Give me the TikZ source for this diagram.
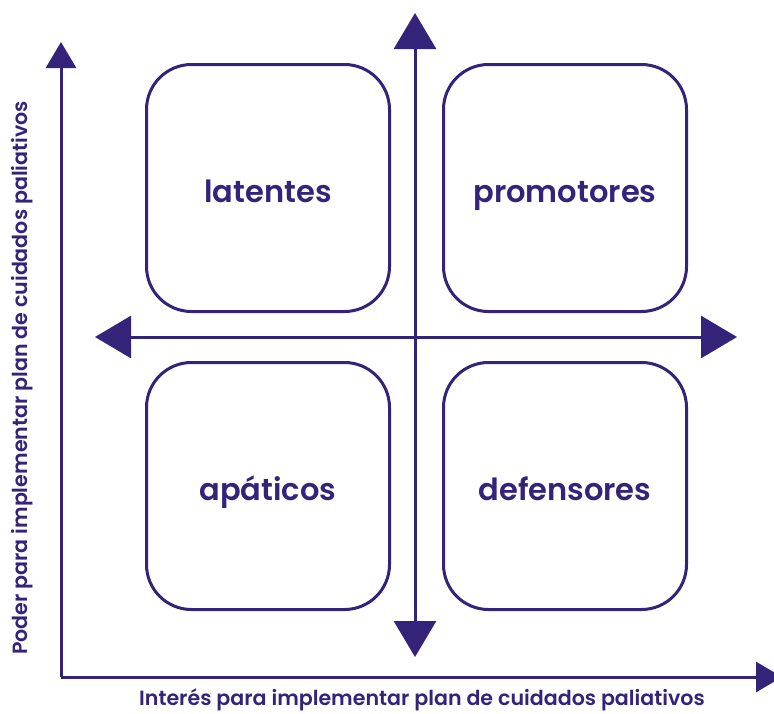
\documentclass[tikz,border=0pt]{standalone}
\usepackage{fontspec}
\setmainfont{Poppins}[UprightFont=*-SemiBold]
\usetikzlibrary{arrows.meta}
\definecolor{indigo}{RGB}{53,35,122}
\tikzset{
    quadbox/.style={draw=indigo, line width=3pt, rounded corners=45pt, minimum width=243pt, minimum height=247pt, inner sep=0pt, text height=28pt, text depth=0pt, text=indigo, font=\fontsize{30.5}{36}\selectfont},
    axislabel/.style={text=indigo, inner sep=0pt, font=\fontsize{20.6}{24}\selectfont},
    bigarrow/.style={indigo, line width=3pt, {Triangle[length=36pt,width=42pt]}-{Triangle[length=36pt,width=42pt]}},
    axisarrow/.style={indigo, line width=3pt, -{Triangle[length=26pt,width=30pt]}}
}
\begin{document}
\begin{tikzpicture}[x=1pt,y=-1pt]
    \useasboundingbox (0,0) rectangle (774,713);
    % Axes
    \coordinate (origin) at (61,677);
    \coordinate (ytip) at (61,42);
    \coordinate (xtip) at (782,677);
    \draw[axisarrow] (origin) -- (ytip);
    \draw[axisarrow] (origin) -- (xtip);
    % Axis labels
    \node[axislabel, rotate=90] (ylabel) at (22,378) {Poder para implementar plan de cuidados paliativos};
    \node[axislabel] (xlabel) at (422,700) {Interés para implementar plan de cuidados paliativos};

    % Quadrants
    \node[quadbox] (latentes) at (268,188) {latentes};
    \node[quadbox] (promotores) at (565,188) {promotores};
    \node[quadbox] (apaticos) at (268,486) {apáticos};
    \node[quadbox] (defensores) at (565,486) {defensores};

    % Cross
    \coordinate (top) at (415,13);
    \coordinate (bottom) at (415,657);
    \coordinate (left) at (95,337);
    \coordinate (right) at (737,337);
    \draw[bigarrow] (top) -- (bottom);
    \draw[bigarrow] (left) -- (right);
\end{tikzpicture}
\end{document}
